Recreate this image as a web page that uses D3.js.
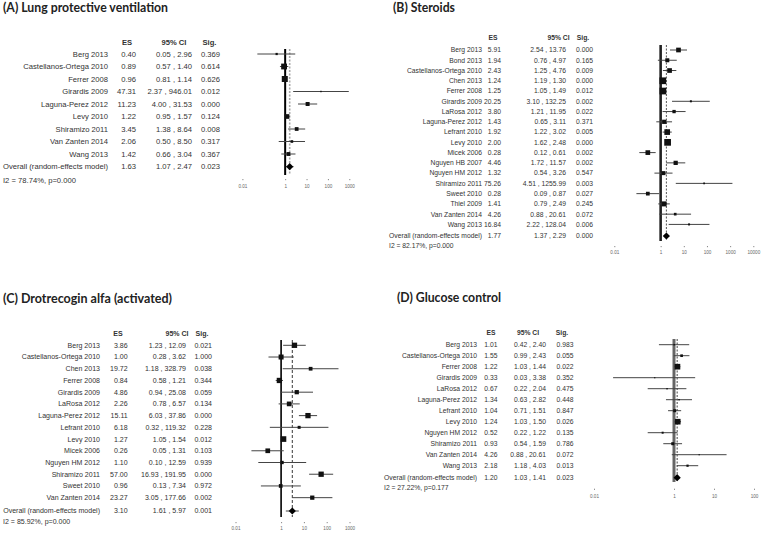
<!DOCTYPE html>
<html><head><meta charset="utf-8">
<script src="https://cdn.jsdelivr.net/npm/d3@7"></script>
<style>body{margin:0;background:#fff}svg{display:block}</style>
</head><body>
<svg id="c" width="762" height="534"></svg>
<script>
// ---------- DATA ----------
const titleA = "(A) Lung protective ventilation";
const studiesA = ["Berg 2013","Castellanos-Ortega 2010","Ferrer 2008","Girardis 2009","Laguna-Perez 2012","Levy 2010","Shiramizo 2011","Van Zanten 2014","Wang 2013"];
const esA  = [0.40,0.89,0.96,47.31,11.23,1.22,3.45,2.06,1.42];
const loA  = [0.05,0.57,0.81,2.37,4.00,0.95,1.38,0.50,0.66];
const hiA  = [2.96,1.40,1.14,946.01,31.53,1.57,8.64,8.50,3.04];
const sigA = [0.369,0.614,0.626,0.012,0.000,0.124,0.008,0.317,0.367];
const wA   = [5,34,36,2,16,22,14,7,15];
const overallA = {es:1.63, lo:1.07, hi:2.47, sig:0.023};
const hetA = "I2 = 78.74%, p=0.000";
const ticksA = [0.01,1,10,100,1000];

const titleB = "(B) Steroids";
const studiesB = ["Berg 2013","Bond 2013","Castellanos-Ortega 2010","Chen 2013","Ferrer 2008","Girardis 2009","LaRosa 2012","Laguna-Perez 2012","Lefrant 2010","Levy 2010","Micek 2006","Nguyen HB 2007","Nguyen HM 2012","Shiramizo 2011","Sweet 2010","Thiel 2009","Van Zanten 2014","Wang 2013"];
const esB  = [5.91,1.94,2.43,1.24,1.25,20.25,3.80,1.43,1.92,2.00,0.28,4.46,1.32,75.26,0.28,1.41,4.26,16.84];
const loB  = [2.54,0.76,1.25,1.19,1.05,3.10,1.21,0.65,1.22,1.62,0.12,1.72,0.54,4.51,0.09,0.79,0.88,2.22];
const hiB  = [13.76,4.97,4.76,1.30,1.49,132.25,11.95,3.11,3.02,2.48,0.61,11.57,3.26,1255.99,0.87,2.49,20.61,128.04];
const sigB = [0.000,0.165,0.009,0.000,0.012,0.002,0.022,0.371,0.005,0.000,0.002,0.002,0.547,0.003,0.027,0.245,0.072,0.006];
const wB   = [22,16,22,45,45,4,11,18,32,45,22,18,16,3,14,25,7,4];
const overallB = {es:1.77, lo:1.37, hi:2.29, sig:0.000};
const hetB = "I2 = 82.17%, p=0.000";
const ticksB = [0.01,1,10,100,1000,10000];

const titleC = "(C) Drotrecogin alfa (activated)";
const studiesC = ["Berg 2013","Castellanos-Ortega 2010","Chen 2013","Ferrer 2008","Girardis 2009","LaRosa 2012","Laguna-Perez 2012","Lefrant 2010","Levy 2010","Micek 2006","Nguyen HM 2012","Shiramizo 2011","Sweet 2010","Van Zanten 2014"];
const esC  = [3.86,1.00,19.72,0.84,4.86,2.26,15.11,6.18,1.27,0.26,1.10,57.00,0.96,23.27];
const loC  = [1.23,0.28,1.18,0.58,0.94,0.78,6.03,0.32,1.05,0.05,0.10,16.93,0.13,3.05];
const hiC  = [12.09,3.62,328.79,1.21,25.08,6.57,37.86,119.32,1.54,1.31,12.59,191.95,7.34,177.66];
const sigC = [0.021,1.000,0.038,0.344,0.059,0.134,0.000,0.228,0.012,0.103,0.939,0.000,0.972,0.002];
const wC   = [28,25,14,28,18,22,28,9,32,22,11,28,14,18];
const overallC = {es:3.10, lo:1.61, hi:5.97, sig:0.001};
const hetC = "I2 = 85.92%, p=0.000";
const ticksC = [0.01,1,10,100,1000];

const titleD = "(D) Glucose control";
const studiesD = ["Berg 2013","Castellanos-Ortega 2010","Ferrer 2008","Girardis 2009","LaRosa 2012","Laguna-Perez 2012","Lefrant 2010","Levy 2010","Nguyen HM 2012","Shiramizo 2011","Van Zanten 2014","Wang 2013"];
const esD  = [1.01,1.55,1.22,0.33,0.67,1.34,1.04,1.24,0.52,0.93,4.26,2.18];
const loD  = [0.42,0.99,1.03,0.03,0.22,0.63,0.71,1.03,0.22,0.54,0.88,1.18];
const hiD  = [2.40,2.43,1.44,3.38,2.04,2.82,1.51,1.50,1.22,1.59,20.61,4.03];
const sigD = [0.983,0.055,0.022,0.352,0.475,0.448,0.847,0.026,0.135,0.786,0.072,0.013];
const wD   = [2,7,32,1,2,2,9,32,4,9,1,5];
const overallD = {es:1.20, lo:1.03, hi:1.41, sig:0.023};
const hetD = "I2 = 27.22%, p=0.177";
const ticksD = [0.01,1,10,100];

const headers = ["ES","95% CI","Sig."];

// ---------- LAYOUT ----------
const panels = [
 {title:titleA, studies:studiesA, es:esA, lo:loA, hi:hiA, sig:sigA, w:wA, ov:overallA, het:hetA, ticks:ticksA,
  L:{tx:3,ty:8,tw:165, fs:7.6, ovW:105, nameX:108, esX:136, ciX:192, sigX:220, hY:42, hES:127, hCI:174, hSig:209.5,
     row0:54, step:12.5, ovY:166.7, hetX:3, hetY:180, dom:[0.01,1000], rng:[242.4,349.3], lineY:[49,175], tickY:179, labY:187,
     ref:{c:"#000",w:2}, dash:{c:"#aaa",w:1.6,d:"2,1.5"}}},
 {title:titleB, studies:studiesB, es:esB, lo:loB, hi:hiB, sig:sigB, w:wB, ov:overallB, het:hetB, ticks:ticksB,
  L:{tx:393,ty:8,tw:62, fs:6.8, ovW:93, nameX:482, esX:501, ciX:566, sigX:593, hY:38, hES:493, hCI:558.5, hSig:583,
     row0:50, step:10.26, ovY:236, hetX:389, hetY:246, dom:[0.01,10000], rng:[614.3,753.3], lineY:[45,241], tickY:246, labY:253,
     ref:{c:"#222",w:2.6}, dash:{c:"#444",w:0.9,d:"2,1.5"}}},
 {title:titleC, studies:studiesC, es:esC, lo:loC, hi:hiC, sig:sigC, w:wC, ov:overallC, het:hetC, ticks:ticksC,
  L:{tx:3,ty:298.7,tw:169, fs:7.0, ovW:97, nameX:100, esX:127.7, ciX:186, sigX:212, hY:333.7, hES:118, hCI:177, hSig:202,
     row0:345.3, step:11.72, ovY:511, hetX:3, hetY:522, dom:[0.01,1000], rng:[235.5,349.5], lineY:[340,517], tickY:522, labY:528.7,
     ref:{c:"#000",w:1.6}, dash:{c:"#222",w:0.9,d:"3,2"}}},
 {title:titleD, studies:studiesD, es:esD, lo:loD, hi:hiD, sig:sigD, w:wD, ov:overallD, het:hetD, ticks:ticksD,
  L:{tx:397,ty:297.7,tw:104, fs:6.8, ovW:93, nameX:477, esX:497.5, ciX:546, sigX:573.5, hY:332.7, hES:491, hCI:528, hSig:562,
     row0:344.7, step:11.0, ovY:477.7, hetX:384, hetY:487.7, dom:[0.01,100], rng:[594,754], lineY:[339,482], tickY:488.7, labY:497,
     ref:{c:"#666",w:3}, dash:{c:"#333",w:0.9,d:"2,1.5"}}}
];

const svg = d3.select("#c");
const f2 = d3.format(".2f"), f3 = d3.format(".3f");
const sideScale = d3.scaleSqrt().domain([0,100]).range([0,10]);
const txt = "#333";
const font = "Liberation Sans, Arial, sans-serif";

panels.forEach(p => {
  const L = p.L;
  const g = svg.append("g");
  // title
  g.append("text").attr("x",L.tx).attr("y",L.ty).attr("dy","0.35em")
    .attr("font-family","Lato, Open Sans, sans-serif").attr("font-weight","bold").attr("font-size",12.5)
    .attr("textLength",L.tw).attr("lengthAdjust","spacingAndGlyphs").attr("fill","#222").text(p.title);

  const T = g.append("g").attr("font-family",font).attr("font-size",L.fs).attr("fill",txt);
  // calibrate font size to the reference width of the overall label
  const probe = T.append("text").text("Overall (random-effects model)");
  const fs = L.fs * L.ovW / probe.node().getComputedTextLength();
  probe.remove();
  T.attr("font-size",fs);

  // headers
  T.append("text").attr("x",L.hES).attr("y",L.hY).attr("dy","0.35em").attr("text-anchor","middle").attr("font-weight","bold").text(headers[0]);
  T.append("text").attr("x",L.hCI).attr("y",L.hY).attr("dy","0.35em").attr("text-anchor","middle").attr("font-weight","bold").text(headers[1]);
  T.append("text").attr("x",L.hSig).attr("y",L.hY).attr("dy","0.35em").attr("text-anchor","middle").attr("font-weight","bold").text(headers[2]);

  const rows = p.studies.map((s,i)=>({name:s, es:p.es[i], lo:p.lo[i], hi:p.hi[i], sig:p.sig[i], w:p.w[i], y:L.row0+i*L.step}));
  const allRows = rows.concat([{name:"Overall (random-effects model)", es:p.ov.es, lo:p.ov.lo, hi:p.ov.hi, sig:p.ov.sig, y:L.ovY, overall:true}]);

  const rg = T.selectAll("g.r").data(allRows).join("g");
  rg.append("text").attr("x",L.nameX).attr("y",d=>d.y).attr("dy","0.35em").attr("text-anchor","end").text(d=>d.name);
  rg.append("text").attr("x",L.esX).attr("y",d=>d.y).attr("dy","0.35em").attr("text-anchor","end").text(d=>f2(d.es));
  rg.append("text").attr("x",L.ciX).attr("y",d=>d.y).attr("dy","0.35em").attr("text-anchor","end").text(d=>f2(d.lo)+" , "+f2(d.hi));
  rg.append("text").attr("x",L.sigX).attr("y",d=>d.y).attr("dy","0.35em").attr("text-anchor","end").text(d=>f3(d.sig));
  T.append("text").attr("x",L.hetX).attr("y",L.hetY).attr("dy","0.35em").text(p.het);

  // plot
  const x = d3.scaleLog().domain(L.dom).range(L.rng);
  g.append("line").attr("x1",x(1)).attr("x2",x(1)).attr("y1",L.lineY[0]).attr("y2",L.lineY[1])
    .attr("stroke",L.ref.c).attr("stroke-width",L.ref.w);
  g.append("line").attr("x1",x(p.ov.es)).attr("x2",x(p.ov.es)).attr("y1",L.lineY[0]).attr("y2",L.lineY[1])
    .attr("stroke",L.dash.c).attr("stroke-width",L.dash.w).attr("stroke-dasharray",L.dash.d);
  g.selectAll("line.ci").data(allRows).join("line")
    .attr("x1",d=>x(d.lo)).attr("x2",d=>x(d.hi)).attr("y1",d=>d.y).attr("y2",d=>d.y)
    .attr("stroke","#444").attr("stroke-width",1);
  const side = d => Math.max(1.2, sideScale(d.w));
  g.selectAll("rect.sq").data(rows).join("rect")
    .attr("x",d=>x(d.es)-side(d)/2).attr("y",d=>d.y-side(d)/2)
    .attr("width",side).attr("height",side).attr("fill","#111");
  const dx=3.6, dy=3.6, cx=x(p.ov.es), cy=L.ovY;
  g.append("path").attr("d",`M${cx-dx},${cy}L${cx},${cy-dy}L${cx+dx},${cy}L${cx},${cy+dy}Z`).attr("fill","#000");
  const ax = d3.axisBottom(x).tickValues(p.ticks).tickFormat(d=>String(d)).tickSize(1.2).tickPadding(4);
  const ag = g.append("g").attr("transform",`translate(0,${L.tickY})`).call(ax);
  ag.select(".domain").remove();
  ag.selectAll(".tick line").attr("stroke","#888");
  ag.selectAll(".tick text").attr("font-size",4.6).attr("font-family",font).attr("fill","#666").attr("dy",0)
    .attr("y",L.labY-L.tickY).attr("dominant-baseline","middle");
});
</script>
</body></html>
